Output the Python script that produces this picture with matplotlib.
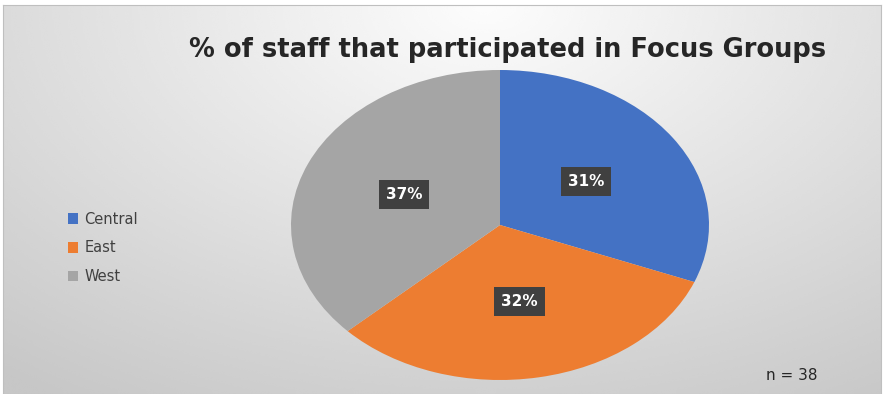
import numpy as np
import matplotlib.pyplot as plt

regions = ['Central', 'East', 'West']
shares = [31, 32, 37]
colors = ['#4472C4', '#ED7D31', '#A5A5A5']
title = '% of staff that participated in Focus Groups'
note = 'n = 38'

W, H = 887, 394
fig = plt.figure(figsize=(W / 100, H / 100), dpi=100)
fig.patch.set_facecolor('white')

# radial grey background, light at the top centre
bg = fig.add_axes([3 / W, 0, 878 / W, 389 / H])
yy, xx = np.mgrid[0:1:200j, 0:1:400j]
dist = np.sqrt(((xx - 0.55) / 0.8) ** 2 + ((yy - 1.0) / 1.1) ** 2)
shade = np.clip(0.99 - 0.21 * np.clip(dist, 0, 1.1) / 1.1, 0, 1)
bg.imshow(shade, cmap='gray', vmin=0, vmax=1, origin='lower',
          extent=[0, 1, 0, 1], aspect='auto', interpolation='bicubic')
bg.set_xticks([])
bg.set_yticks([])
for s in bg.spines.values():
    s.set_color('#bfbfbf')
    s.set_linewidth(0.8)

# pie axes: centre (500, 225), radii 209 x 155 px
rx, ry = 209, 155
ax = fig.add_axes([(500 - rx) / W, (H - 225 - ry) / H, 2 * rx / W, 2 * ry / H])
wedges, texts = ax.pie(shares, colors=colors, startangle=90, counterclock=False,
                       labels=[f'{v}%' for v in shares], labeldistance=0.5,
                       wedgeprops=dict(linewidth=0))
for t in texts:
    t.set_color('white')
    t.set_fontweight('bold')
    t.set_fontsize(11)
    t.set_family('DejaVu Sans')
    t.set_ha('center')
    t.set_va('center')
    t.set_bbox(dict(boxstyle='square,pad=0.45', fc='#404040', ec='none'))
ax.set_aspect('auto')
ax.set_xlim(-1, 1)
ax.set_ylim(-1, 1)
ax.axis('off')

fig.text(508 / W, 1 - 50 / H, title, ha='center', va='center',
         fontsize=18.5, fontweight='bold', color='#262626', family='DejaVu Sans')

leg = fig.legend(wedges, regions, loc='center left', bbox_to_anchor=(55 / W, 1 - 248 / H),
                 frameon=False, fontsize=10.5, handlelength=0.7, handleheight=0.7,
                 labelspacing=0.95, handletextpad=0.4, labelcolor='#404040')

fig.text(792 / W, 1 - 376 / H, note, ha='center', va='center',
         fontsize=11, color='#262626')

fig.savefig('out.png', dpi=100)
